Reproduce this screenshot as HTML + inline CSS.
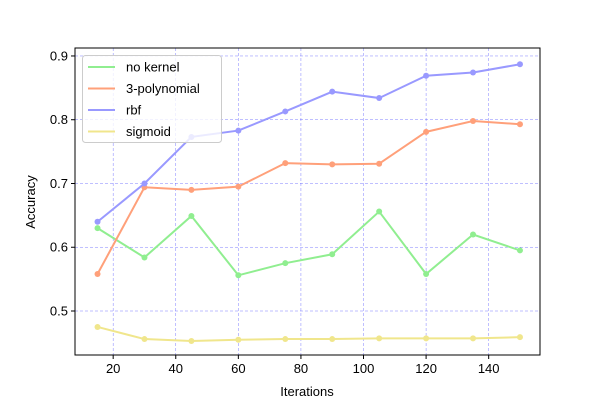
<!DOCTYPE html>
<html><head><meta charset="utf-8"><style>
body{margin:0;background:#fff;font-family:"Liberation Sans",sans-serif;}
svg text{font-family:"Liberation Sans",sans-serif;fill:#000;}
</style></head><body>
<svg id="chart" width="600" height="400" xmlns="http://www.w3.org/2000/svg">
<rect width="600" height="400" fill="#fff"/>
<g id="grid"></g>
<g id="series"></g>
<rect x="75" y="48" width="465" height="307" fill="none" stroke="#000" stroke-width="1"/>
<g id="axes"></g>
<text x="307" y="396" font-size="13" text-anchor="middle">Iterations</text>
<text transform="translate(35,202) rotate(-90)" font-size="13" text-anchor="middle">Accuracy</text>
<g id="legend"></g>
</svg>
<script>
const iterations=[15,30,45,60,75,90,105,120,135,150];
const noKernel=[0.630,0.584,0.649,0.556,0.575,0.589,0.656,0.558,0.620,0.595];
const poly3=[0.558,0.694,0.690,0.695,0.732,0.730,0.731,0.781,0.798,0.793];
const rbf=[0.640,0.700,0.773,0.783,0.813,0.844,0.834,0.869,0.874,0.887];
const sigmoid=[0.475,0.456,0.453,0.455,0.456,0.456,0.457,0.457,0.457,0.459];
const seriesNames=["no kernel","3-polynomial","rbf","sigmoid"];
const xTicks=[20,40,60,80,100,120,140];
const yTicks=[0.5,0.6,0.7,0.8,0.9];
const NS="http://www.w3.org/2000/svg";
const L=75,R=540,T=48,B=355;
const xMin=7.8,xMax=156.4,yMin=0.431,yMax=0.9125;
const xs=v=>L+(v-xMin)/(xMax-xMin)*(R-L);
const ys=v=>B-(v-yMin)/(yMax-yMin)*(B-T);
function mk(tag,attrs,parent){const e=document.createElementNS(NS,tag);for(const k in attrs)e.setAttribute(k,attrs[k]);parent.appendChild(e);return e;}
const grid=document.getElementById('grid'),axes=document.getElementById('axes');
xTicks.forEach(t=>{const x=xs(t);
 const g=mk('line',{x1:x,x2:x,y1:T,y2:B,stroke:'#0000ff',"stroke-opacity":0.5,"stroke-width":0.5,"stroke-dasharray":"3,2"},grid);
 
 const tk=mk('line',{x1:x,x2:x,y1:B,y2:B+4,stroke:'#000'},axes);
 
 const tx=mk('text',{x:x,y:B+18,"font-size":13,"text-anchor":"middle"},axes);tx.textContent=t;
 });
yTicks.forEach(t=>{const y=ys(t);
 const g=mk('line',{x1:L,x2:R,y1:y,y2:y,stroke:'#0000ff',"stroke-opacity":0.5,"stroke-width":0.5,"stroke-dasharray":"3,2"},grid);
 
 const tk=mk('line',{x1:L-4,x2:L,y1:y,y2:y,stroke:'#000'},axes);
 
 const tx=mk('text',{x:L-7,y:y+4.5,"font-size":13,"text-anchor":"end"},axes);tx.textContent=t.toFixed(1);
 });
const data=[noKernel,poly3,rbf,sigmoid];
const colors=["#90ee90","#ffa07a","#9999ff","#f0e68c"];
const sg=document.getElementById('series');
data.forEach((arr,i)=>{
 const pts=arr.map((v,j)=>xs(iterations[j])+','+ys(v)).join(' ');
 const pl=mk('polyline',{points:pts,fill:'none',stroke:colors[i],"stroke-width":2},sg);
 
 
 arr.forEach((v,j)=>{const c=mk('circle',{cx:xs(iterations[j]),cy:ys(v),r:3,fill:colors[i]},sg);
  });
});
const lg=document.getElementById('legend');
const box=mk('rect',{x:82.5,y:55.5,width:139,height:87,rx:3,fill:'#fff',"fill-opacity":0.8,stroke:'#ccc'},lg);

seriesNames.forEach((n,i)=>{const y=67+i*21.5;
 const ln=mk('line',{x1:88,x2:115,y1:y,y2:y,stroke:colors[i],"stroke-width":2},lg);
 
 const tx=mk('text',{x:126,y:y+4.5,"font-size":13},lg);tx.textContent=n;
 });
</script>
</body></html>
